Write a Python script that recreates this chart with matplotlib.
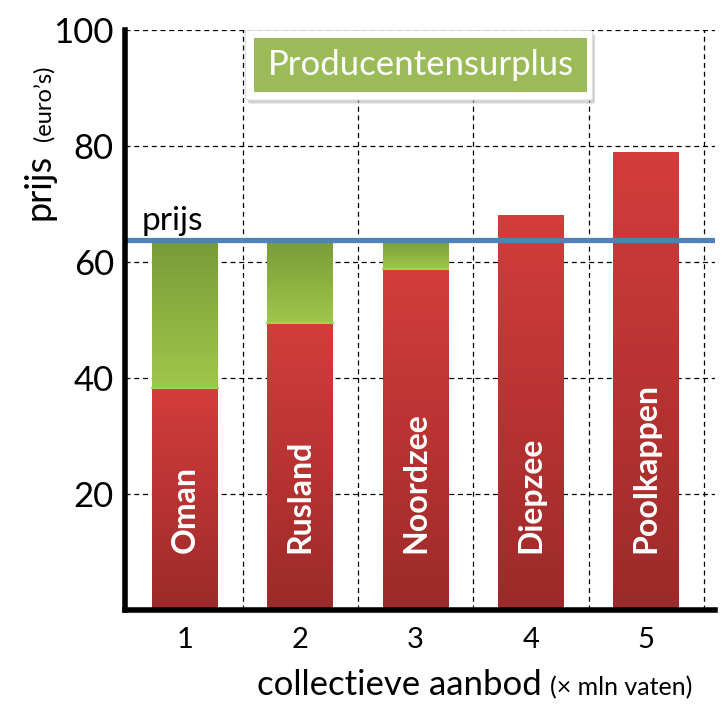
import matplotlib
matplotlib.use("Agg")
import matplotlib.pyplot as plt
import numpy as np
from matplotlib.colors import LinearSegmentedColormap
from matplotlib.patches import FancyBboxPatch

countries = ["Oman", "Rusland", "Noordzee", "Diepzee", "Poolkappen"]
positions = [1, 2, 3, 4, 5]
costs = [38.2, 49.5, 58.7, 68.0, 79.0]
price = 63.7
yticks = [20, 40, 60, 80, 100]

plt.rcParams['font.family'] = ['Lato', 'DejaVu Sans']

fig = plt.figure(figsize=(7.27, 7.27), dpi=100)
ax = fig.add_axes([0.172, 0.161, 0.812, 0.798])
ax.set_xlim(0.48, 5.6)
ax.set_ylim(0, 100)

red_cmap = LinearSegmentedColormap.from_list("r", ["#9c2a2a", "#d33d3b"])
green_cmap = LinearSegmentedColormap.from_list("g", ["#9fc74a", "#779b38"])
grad = np.linspace(0, 1, 256).reshape(-1, 1)

width = 0.57
for x, c, name in zip(positions, costs, countries):
    b = ax.bar(x, c, width=width, color="none", zorder=3)[0]
    im = ax.imshow(grad, cmap=red_cmap, aspect="auto", origin="lower",
                   extent=[x - width / 2, x + width / 2, 0, c], zorder=3)
    im.set_clip_path(b)
    if c < price:
        g = ax.bar(x, price - c, bottom=c, width=width, color="none", zorder=3)[0]
        im2 = ax.imshow(grad, cmap=green_cmap, aspect="auto", origin="lower",
                        extent=[x - width / 2, x + width / 2, c, price], zorder=3)
        im2.set_clip_path(g)
        ax.plot([x - width / 2, x + width / 2], [c, c], color="#a8d050", lw=1.5, zorder=4)
    ax.text(x, 9.8, name, rotation=90, color="white", fontweight="bold",
            fontsize=23, ha="center", va="bottom", zorder=5)

ax.axhline(price, color="#4f81bd", lw=3.8, zorder=6)
ax.text(0.62, price + 0.7, "prijs", fontsize=24, ha="left", va="bottom", zorder=6)

ax.set_xticks(positions)
ax.set_xticklabels([str(p) for p in positions], fontsize=21)
ax.set_yticks(yticks)
ax.set_yticklabels([str(t) for t in yticks], fontsize=25)
ax.tick_params(length=0, pad=8)
ax.tick_params(axis='x', pad=12)

for y in yticks:
    ax.axhline(y, color="black", lw=0.9, ls=(0, (4, 3)), zorder=1)
for xv in [1.5, 2.5, 3.5, 4.5, 5.5]:
    ax.axvline(xv, color="black", lw=0.9, ls=(0, (4, 3)), zorder=1)

for s in ["top", "right"]:
    ax.spines[s].set_visible(False)
ax.spines["left"].set_linewidth(4)
ax.spines["bottom"].set_linewidth(4)
ax.spines["left"].set_zorder(7)
ax.spines["bottom"].set_zorder(7)

# legend-like label box
shadow = FancyBboxPatch((0.212, 0.877), 0.58, 0.112, boxstyle="round,pad=0.004",
                        transform=ax.transAxes, facecolor="#b5b5b5", edgecolor="none",
                        alpha=0.6, zorder=8)
ax.add_patch(shadow)
box = FancyBboxPatch((0.208, 0.883), 0.58, 0.112, boxstyle="round,pad=0.004",
                     transform=ax.transAxes, facecolor="white", edgecolor="#dddddd",
                     lw=0.6, zorder=9)
ax.add_patch(box)
inner = FancyBboxPatch((0.219, 0.893), 0.563, 0.093, boxstyle="square,pad=0",
                       transform=ax.transAxes, facecolor="#9bbb59", edgecolor="none",
                       zorder=10)
ax.add_patch(inner)
ax.text(0.5005, 0.939, "Producentensurplus", transform=ax.transAxes, color="white",
        fontsize=25, ha="center", va="center", zorder=11)

# axis labels with mixed sizes
fig.text(0.054, 0.743, "prijs", rotation=90, fontsize=26, ha="center", va="center")
fig.text(0.060, 0.858, "(euro\u2019s)", rotation=90, fontsize=17, ha="center", va="center")
fig.text(0.353, 0.058, "collectieve aanbod", fontsize=25, ha="left", va="center")
fig.text(0.757, 0.054, "(\u00d7 mln vaten)", fontsize=18, ha="left", va="center")

fig.savefig("out.png", dpi=100)
